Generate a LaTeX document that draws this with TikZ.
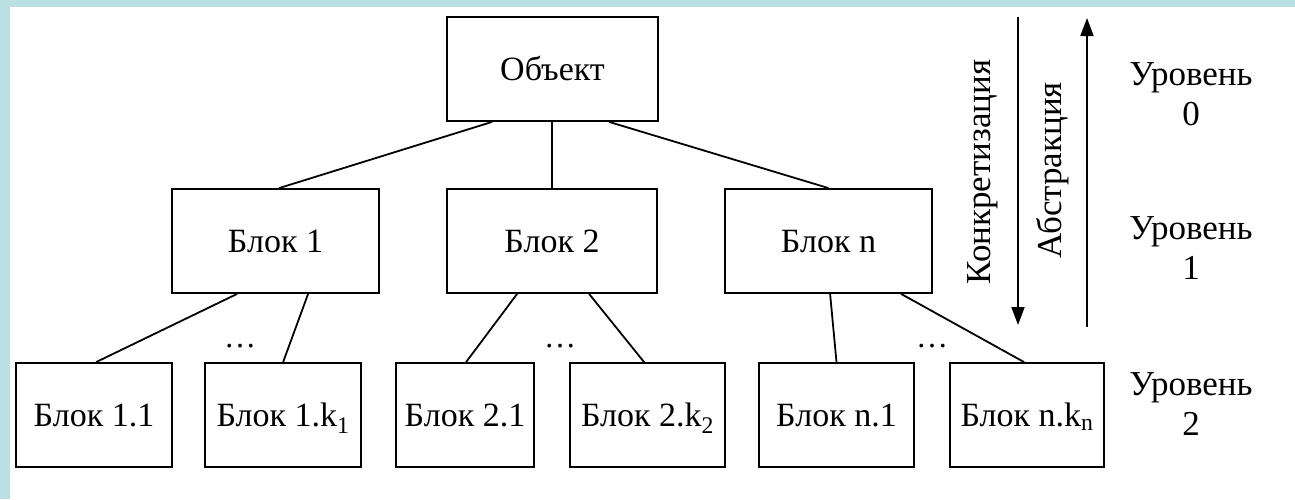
\documentclass[tikz,border=0pt]{standalone}
\usepackage{fontspec}
\setmainfont{Liberation Serif}
\usetikzlibrary{arrows.meta}
\definecolor{frameblue}{RGB}{186,224,228}
\tikzset{
  blk/.style={draw=black, line width=1.8pt, rectangle, inner sep=0pt, minimum height=104pt, text height=29.6pt, text depth=7pt, font=\fontsize{34}{40}\selectfont},
  link/.style={line width=1.8pt},
  lbl/.style={font=\fontsize{35}{40}\selectfont, inner sep=0pt},
  lvl/.style={font=\fontsize{35}{40}\selectfont, inner sep=0pt, align=center},
  dotsn/.style={font=\fontsize{32}{40}\selectfont, inner sep=0pt},
  dirarrow/.style={line width=1.8pt, -{Triangle[length=18pt,width=13pt]}}
}
\begin{document}
\begin{tikzpicture}[x=1pt,y=-1pt]
\useasboundingbox (0,0) rectangle (1295,499);
\fill[white] (0,0) rectangle (1295,499);
\fill[frameblue] (0,0) rectangle (1295,7);
\fill[frameblue] (0,0) rectangle (10,499);

% level 0
\node[blk, minimum width=211pt] (obj) at (552.5,69) {Объект};
% level 1
\node[blk, minimum width=207pt] (b1) at (275.5,241) {Блок 1};
\node[blk, minimum width=210pt] (b2) at (552,241) {Блок 2};
\node[blk, minimum width=207pt] (bn) at (828.5,241) {Блок n};
% level 2
\node[blk, minimum width=156pt] (c11) at (94,415) {Блок 1.1};
\node[blk, minimum width=156pt] (c1k) at (283,415) {Блок 1.k\textsubscript{1}};
\node[blk, minimum width=138pt] (c21) at (465,415) {Блок 2.1};
\node[blk, minimum width=155pt] (c2k) at (647.5,415) {Блок 2.k\textsubscript{2}};
\node[blk, minimum width=155pt] (cn1) at (836.5,415) {Блок n.1};
\node[blk, minimum width=154pt] (cnk) at (1027,415) {Блок n.k\textsubscript{n}};

% connectors
\draw[link] ([xshift=46pt]obj.south west) -- ([xshift=108pt]b1.north west);
\draw[link] (b2.north |- obj.south) -- (b2.north);
\draw[link] ([xshift=163pt]obj.south west) -- (bn.north);
\draw[link] ([xshift=66pt]b1.south west) -- ([xshift=81pt]c11.north west);
\draw[link] ([xshift=137pt]b1.south west) -- ([xshift=79pt]c1k.north west);
\draw[link] ([xshift=71pt]b2.south west) -- ([xshift=71pt]c21.north west);
\draw[link] ([xshift=143pt]b2.south west) -- ([xshift=75pt]c2k.north west);
\draw[link] ([xshift=106pt]bn.south west) -- (cn1.north);
\draw[link] ([xshift=177pt]bn.south west) -- ([xshift=75pt]cnk.north west);

% dots
\node[dotsn] (d1) at (240,346) {\ldots};
\node[dotsn] (d2) at (560,346) {\ldots};
\node[dotsn] (d3) at (932,346) {\ldots};

% direction arrows
\coordinate (ktop) at (1018,17);
\coordinate (kbot) at (1018,325);
\coordinate (abot) at (1087,327);
\coordinate (atop) at (1087,18);
\draw[dirarrow] (ktop) -- (kbot);
\draw[dirarrow] (abot) -- (atop);
\node[lbl, rotate=90] (konk) at (983,172) {Конкретизация};
\node[lbl, rotate=90] (abst) at (1053,170) {Абстракция};

% level labels
\node[lvl] (lv0) at (1191,94) {Уровень\\0};
\node[lvl] (lv1) at (1191,248) {Уровень\\1};
\node[lvl] (lv2) at (1191,404) {Уровень\\2};
\end{tikzpicture}
\end{document}
